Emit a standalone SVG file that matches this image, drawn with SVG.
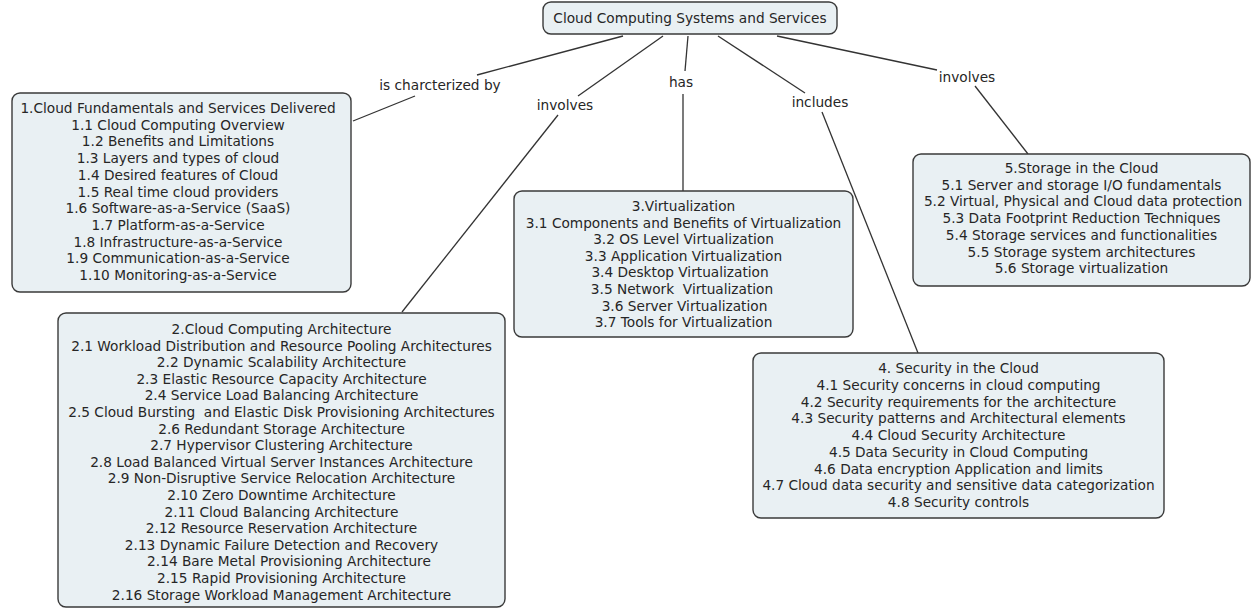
<svg xmlns="http://www.w3.org/2000/svg" width="1252" height="609" viewBox="0 0 1252 609">
<style>
.box{fill:#e9f0f3;stroke:#3a3a3a;stroke-width:1.4}
.t{font-family:"DejaVu Sans","Verdana",sans-serif;font-size:13.7px;fill:#262626;text-anchor:middle;dominant-baseline:central;white-space:pre}
.lbl{font-family:"DejaVu Sans","Verdana",sans-serif;font-size:13.7px;fill:#262626;text-anchor:middle;dominant-baseline:central}
.c{stroke:#333;stroke-width:1.3;fill:none}
</style>
<rect width="1252" height="609" fill="#ffffff"/>
<g id="connectors">
<line class="c" x1="623" y1="36" x2="477" y2="75"/>
<line class="c" x1="415" y1="96" x2="353" y2="121"/>
<line class="c" x1="663" y1="36" x2="578" y2="96"/>
<line class="c" x1="558" y1="115" x2="402" y2="312"/>
<line class="c" x1="688" y1="36" x2="685" y2="71"/>
<line class="c" x1="683" y1="94" x2="683" y2="191"/>
<line class="c" x1="718" y1="36" x2="805" y2="93"/>
<line class="c" x1="822" y1="112" x2="918" y2="353"/>
<line class="c" x1="777" y1="36" x2="937" y2="70"/>
<line class="c" x1="975" y1="86" x2="1028" y2="154"/>
<text class="lbl" x="440" y="85">is charcterized by</text>
<text class="lbl" x="565" y="105">involves</text>
<text class="lbl" x="681" y="82">has</text>
<text class="lbl" x="820" y="102">includes</text>
<text class="lbl" x="967" y="77">involves</text>
</g>
<g id="root">
<rect class="box" x="543" y="2" width="294" height="32" rx="8"/>
<text class="t" x="690" y="17.5">Cloud Computing Systems and Services</text>
</g>
<g id="node1">
<rect class="box" x="12" y="93" width="339" height="199" rx="8"/>
<text class="t" x="178" y="108">1.Cloud Fundamentals and Services Delivered<tspan x="178" dy="16.7">1.1 Cloud Computing Overview</tspan><tspan x="178" dy="16.7">1.2 Benefits and Limitations</tspan><tspan x="178" dy="16.7">1.3 Layers and types of cloud</tspan><tspan x="178" dy="16.7">1.4 Desired features of Cloud</tspan><tspan x="178" dy="16.7">1.5 Real time cloud providers</tspan><tspan x="178" dy="16.7">1.6 Software-as-a-Service (SaaS)</tspan><tspan x="178" dy="16.7">1.7 Platform-as-a-Service</tspan><tspan x="178" dy="16.7">1.8 Infrastructure-as-a-Service</tspan><tspan x="178" dy="16.7">1.9 Communication-as-a-Service</tspan><tspan x="178" dy="16.7">1.10 Monitoring-as-a-Service</tspan></text>
</g>
<g id="node2">
<rect class="box" x="58" y="313" width="447" height="294" rx="8"/>
<text class="t" x="281.5" y="329">2.Cloud Computing Architecture<tspan x="281.5" dy="16.6">2.1 Workload Distribution and Resource Pooling Architectures</tspan><tspan x="281.5" dy="16.6">2.2 Dynamic Scalability Architecture</tspan><tspan x="281.5" dy="16.6">2.3 Elastic Resource Capacity Architecture</tspan><tspan x="281.5" dy="16.6">2.4 Service Load Balancing Architecture</tspan><tspan x="281.5" dy="16.6">2.5 Cloud Bursting  and Elastic Disk Provisioning Architectures</tspan><tspan x="281.5" dy="16.6">2.6 Redundant Storage Architecture</tspan><tspan x="281.5" dy="16.6">2.7 Hypervisor Clustering Architecture</tspan><tspan x="281.5" dy="16.6">2.8 Load Balanced Virtual Server Instances Architecture</tspan><tspan x="281.5" dy="16.6">2.9 Non-Disruptive Service Relocation Architecture</tspan><tspan x="281.5" dy="16.6">2.10 Zero Downtime Architecture</tspan><tspan x="281.5" dy="16.6">2.11 Cloud Balancing Architecture</tspan><tspan x="281.5" dy="16.6">2.12 Resource Reservation Architecture</tspan><tspan x="281.5" dy="16.6">2.13 Dynamic Failure Detection and Recovery</tspan><tspan x="289" dy="16.6">2.14 Bare Metal Provisioning Architecture</tspan><tspan x="281.5" dy="16.6">2.15 Rapid Provisioning Architecture</tspan><tspan x="281.5" dy="16.6">2.16 Storage Workload Management Architecture</tspan></text>
</g>
<g id="node3">
<rect class="box" x="514" y="191" width="339" height="146" rx="8"/>
<text class="t" x="683.5" y="206">3.Virtualization<tspan x="683.5" dy="16.6">3.1 Components and Benefits of Virtualization</tspan><tspan x="683.5" dy="16.6">3.2 OS Level Virtualization</tspan><tspan x="683.5" dy="16.6">3.3 Application Virtualization</tspan><tspan x="680" dy="16.6">3.4 Desktop Virtualization</tspan><tspan x="682" dy="16.6">3.5 Network  Virtualization</tspan><tspan x="684.5" dy="16.6">3.6 Server Virtualization</tspan><tspan x="683.5" dy="16.6">3.7 Tools for Virtualization</tspan></text>
</g>
<g id="node4">
<rect class="box" x="753" y="353" width="411" height="165" rx="8"/>
<text class="t" x="958.5" y="368">4. Security in the Cloud<tspan x="958.5" dy="16.75">4.1 Security concerns in cloud computing</tspan><tspan x="958.5" dy="16.75">4.2 Security requirements for the architecture</tspan><tspan x="958.5" dy="16.75">4.3 Security patterns and Architectural elements</tspan><tspan x="958.5" dy="16.75">4.4 Cloud Security Architecture</tspan><tspan x="958.5" dy="16.75">4.5 Data Security in Cloud Computing</tspan><tspan x="958.5" dy="16.75">4.6 Data encryption Application and limits</tspan><tspan x="958.5" dy="16.75">4.7 Cloud data security and sensitive data categorization</tspan><tspan x="958.5" dy="16.75">4.8 Security controls</tspan></text>
</g>
<g id="node5">
<rect class="box" x="913" y="154" width="337" height="132" rx="8"/>
<text class="t" x="1081.5" y="168">5.Storage in the Cloud<tspan x="1081.5" dy="16.7">5.1 Server and storage I/O fundamentals</tspan><tspan x="1083" dy="16.7">5.2 Virtual, Physical and Cloud data protection</tspan><tspan x="1081.5" dy="16.7">5.3 Data Footprint Reduction Techniques</tspan><tspan x="1081.5" dy="16.7">5.4 Storage services and functionalities</tspan><tspan x="1081.5" dy="16.7">5.5 Storage system architectures</tspan><tspan x="1081.5" dy="16.7">5.6 Storage virtualization</tspan></text>
</g>
</svg>
